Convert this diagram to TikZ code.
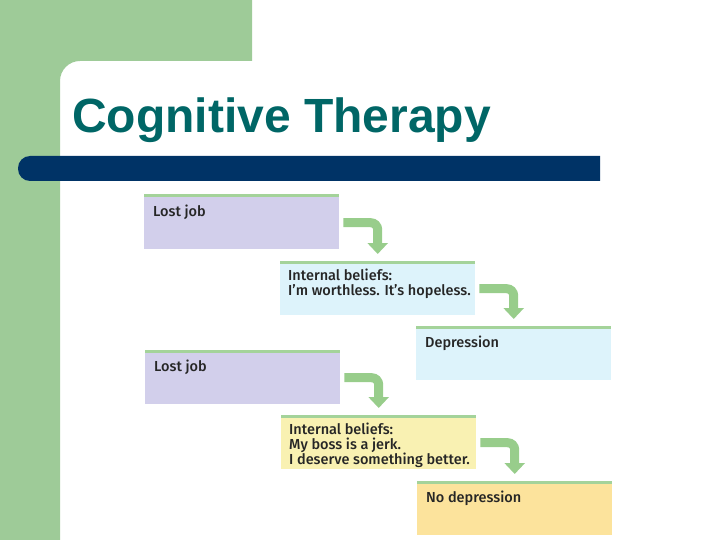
\documentclass[tikz,border=0pt]{standalone}
\usepackage{fontspec}
\setmainfont{Liberation Sans}
\newfontfamily\boxfont{Fira Sans}[UprightFont={* Medium}]
\usetikzlibrary{arrows.meta,positioning}

\definecolor{slidegreen}{RGB}{158,203,152}
\definecolor{titleteal}{RGB}{0,102,102}
\definecolor{barnavy}{RGB}{0,51,102}
\definecolor{rimgreen}{RGB}{164,211,154}
\definecolor{arrowgreen}{RGB}{152,205,139}
\definecolor{lostfill}{RGB}{210,207,235}
\definecolor{bluefill}{RGB}{221,243,251}
\definecolor{yellowfill}{RGB}{249,241,178}
\definecolor{orangefill}{RGB}{252,227,156}

\newcommand*{\boxw}{195pt}
\newcommand*{\boxh}{53pt}

\begin{document}
\begin{tikzpicture}
[
	x=1pt, y=-1pt,
	stepbox/.style={rectangle,anchor=north west,inner sep=0pt,minimum width=\boxw,minimum height=\boxh},
	boxlabel/.style={anchor=north west,inner sep=0pt,align=left,font=\boxfont\fontsize{14.5}{15}\selectfont,text=black!85},
	rim/.style={rimgreen,line width=3pt},
	flowarrow/.style={arrowgreen,line width=9pt,rounded corners=7pt,-{Triangle[width=20pt,length=11pt]}}
]
	\useasboundingbox (0,0) rectangle (720,540);

	% slide background
	\fill[slidegreen] (0,0) -- (252,0) -- (252,61) [rounded corners=20pt] -- (60,61) [sharp corners] -- (60,540) -- (0,540) -- cycle;
	\fill[barnavy] (600,156) [rounded corners=12pt] -- (18,156) -- (18,181) [sharp corners] -- (600,181) -- cycle;

	% title
	\node[anchor=base west,inner sep=0pt,text=titleteal,font=\fontsize{48}{48}\selectfont\bfseries] (title) at (72,133) {Cognitive Therapy};

	% boxes
	\node[stepbox,fill=lostfill] (b1) at (144,196) {};
	\node[stepbox,fill=bluefill] (b2) at (280,262) {};
	\node[stepbox,fill=bluefill] (b3) at (416,327) {};
	\node[stepbox,fill=lostfill] (b4) at (145,351) {};
	\node[stepbox,fill=yellowfill] (b5) at (281,416) {};
	\node[stepbox,fill=orangefill] (b6) at (417,482) {};

	% green rims on top
	\foreach \b in {b1,b2,b3,b4,b5,b6}
		\draw[rim] (\b.north west) -- (\b.north east);

	% labels
	\node[boxlabel] (t1) at ([xshift=9pt,yshift=-9pt]b1.north west) {Lost job};
	\node[boxlabel] (t2) at ([xshift=8pt,yshift=-7pt]b2.north west) {Internal beliefs:\\I’m worthless. It’s hopeless.};
	\node[boxlabel] (t3) at ([xshift=9pt,yshift=-9pt]b3.north west) {Depression};
	\node[boxlabel] (t4) at ([xshift=9pt,yshift=-9pt]b4.north west) {Lost job};
	\node[boxlabel] (t5) at ([xshift=8pt,yshift=-7pt]b5.north west) {Internal beliefs:\\My boss is a jerk.\\I deserve something better.};
	\node[boxlabel] (t6) at ([xshift=9pt,yshift=-9pt]b6.north west) {No depression};

	% arrows
	\draw[flowarrow] ([xshift=4pt]b1.east) -| ([yshift=8pt]b2.north);
	\draw[flowarrow] ([xshift=4pt]b2.east) -| ([yshift=8pt]b3.north);
	\draw[flowarrow] ([xshift=4pt]b4.east) -| ([yshift=8pt]b5.north);
	\draw[flowarrow] ([xshift=4pt]b5.east) -| ([yshift=8pt]b6.north);

\end{tikzpicture}
\end{document}
